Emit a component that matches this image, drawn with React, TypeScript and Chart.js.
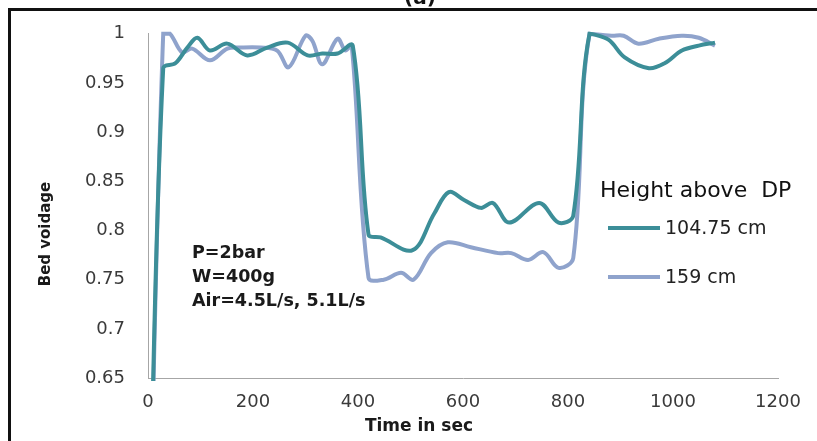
import React, { useEffect, useRef } from "react";
import { Chart, registerables } from "chart.js";

Chart.register(...registerables);

// ---- data ----
const SERIES_LABELS = ["104.75 cm", "159 cm"];
const LEGEND_TITLE = "Height above  DP";
const NOTE_LINES = ["P=2bar", "W=400g", "Air=4.5L/s, 5.1L/s"];
const X_TITLE = "Time in sec";
const Y_TITLE = "Bed voidage";
const PANEL_LABEL = "(a)";

const X_TICKS = [0, 200, 400, 600, 800, 1000, 1200];
const Y_TICKS = [0.65, 0.7, 0.75, 0.8, 0.85, 0.9, 0.95, 1];

const T_104 = [0, 29, 52, 75, 94, 118, 151, 189, 227, 266, 304, 332, 361, 390, 420, 443, 504, 545, 573, 602, 634, 657, 688, 745, 782, 810, 841, 877, 908, 954, 984, 1017, 1049, 1080];
const V_104 = [0.42, 0.965, 0.97, 0.986, 0.996, 0.983, 0.99, 0.978, 0.986, 0.991, 0.978, 0.98, 0.98, 0.988, 0.796, 0.793, 0.78, 0.817, 0.839, 0.831, 0.823, 0.828, 0.808, 0.828, 0.808, 0.815, 1.0, 0.994, 0.976, 0.965, 0.97, 0.983, 0.988, 0.991];

const T_159 = [0, 29, 42, 65, 84, 118, 151, 176, 214, 246, 268, 300, 313, 332, 361, 376, 388, 420, 449, 482, 506, 539, 571, 615, 667, 692, 724, 753, 782, 810, 841, 883, 906, 934, 973, 1017, 1049, 1080];
const V_159 = [0.4, 1.0, 1.0, 0.981, 0.985, 0.973, 0.985, 0.986, 0.986, 0.983, 0.966, 0.998, 0.993, 0.969, 0.995, 0.983, 0.988, 0.752, 0.75, 0.757, 0.75, 0.777, 0.788, 0.783, 0.777, 0.777, 0.77, 0.778, 0.762, 0.772, 1.0, 0.998, 0.998, 0.99, 0.995, 0.998, 0.996, 0.988];

const COLORS = ["#3c8e98", "#8fa3cc"];

const toPoints = (t: number[], v: number[]) => t.map((x, i) => ({ x, y: v[i] }));

const FONT = "'DejaVu Sans', sans-serif";

const overlayPlugin = {
  id: "overlay",
  afterDraw(chart: any) {
    const ctx = chart.ctx as CanvasRenderingContext2D;
    ctx.save();
    // frame (left and top edges only are visible)
    ctx.fillStyle = "#111";
    ctx.fillRect(8, 8, 3, chart.height - 8);
    ctx.fillRect(8, 8, chart.width - 8, 3);
    // panel label, cut by the top edge
    ctx.font = `bold 20px ${FONT}`;
    ctx.textAlign = "center";
    ctx.textBaseline = "alphabetic";
    ctx.fillText(PANEL_LABEL, 420, 4);
    // legend title
    ctx.fillStyle = "#111";
    ctx.textAlign = "left";
    ctx.textBaseline = "alphabetic";
    ctx.font = `22px ${FONT}`;
    ctx.fillText(LEGEND_TITLE, 600, 197);
    // legend items
    chart.data.datasets.forEach((ds: any, i: number) => {
      const y = 228 + i * 49;
      ctx.strokeStyle = ds.borderColor;
      ctx.lineWidth = 4;
      ctx.beginPath();
      ctx.moveTo(608, y);
      ctx.lineTo(660, y);
      ctx.stroke();
      ctx.fillStyle = "#222";
      ctx.font = `19px ${FONT}`;
      ctx.textBaseline = "middle";
      ctx.fillText(ds.label, 665, y + 1);
    });
    // note
    ctx.fillStyle = "#1a1a1a";
    ctx.font = `bold 17.5px ${FONT}`;
    ctx.textBaseline = "middle";
    NOTE_LINES.forEach((line, i) => {
      ctx.fillText(line, 192, 253 + i * 24);
    });
    // axis titles
    ctx.font = `bold 17px ${FONT}`;
    ctx.textAlign = "center";
    ctx.fillText(X_TITLE, 419, 427);
    ctx.translate(46, 234);
    ctx.rotate(-Math.PI / 2);
    ctx.font = `bold 15px ${FONT}`;
    ctx.fillText(Y_TITLE, 0, 0);
    ctx.restore();
  },
};

export default function App() {
  const ref = useRef<HTMLCanvasElement | null>(null);

  useEffect(() => {
    if (!ref.current) return;
    const chart = new Chart(ref.current, {
      type: "line",
      data: {
        datasets: [
          {
            label: SERIES_LABELS[0],
            data: toPoints(T_104, V_104),
            borderColor: COLORS[0],
            backgroundColor: COLORS[0],
            borderWidth: 4,
            pointRadius: 0,
            tension: 0.35,
            fill: false,
            clip: 3,
          },
          {
            label: SERIES_LABELS[1],
            data: toPoints(T_159, V_159),
            borderColor: COLORS[1],
            backgroundColor: COLORS[1],
            borderWidth: 4,
            pointRadius: 0,
            tension: 0.35,
            fill: false,
            clip: 3,
          },
        ],
      },
      options: {
        responsive: false,
        animation: false,
        devicePixelRatio: 1,
        layout: { padding: { left: 0, top: 33, right: 39, bottom: 0 } },
        plugins: {
          legend: { display: false },
          tooltip: { enabled: false },
        },
        scales: {
          x: {
            type: "linear",
            min: 0,
            max: 1200,
            afterBuildTicks: (s: any) => {
              s.ticks = X_TICKS.map((v) => ({ value: v }));
            },
            afterFit: (s: any) => {
              s.height = 63;
            },
            grid: { display: true, drawOnChartArea: false, drawTicks: false },
            border: { display: true, color: "#a6a6a6", width: 1 },
            ticks: {
              color: "#3a3a3a",
              font: { family: "'DejaVu Sans', sans-serif", size: 18 },
              padding: 14,
              maxRotation: 0,
              autoSkip: false,
              callback: (v: any) => String(v),
            },
          },
          y: {
            type: "linear",
            min: 0.65,
            max: 1,
            afterBuildTicks: (s: any) => {
              s.ticks = Y_TICKS.map((v) => ({ value: v }));
            },
            afterFit: (s: any) => {
              s.width = 148;
            },
            grid: { display: true, drawOnChartArea: false, drawTicks: false },
            border: { display: true, color: "#a6a6a6", width: 1 },
            ticks: {
              color: "#3a3a3a",
              font: { family: "'DejaVu Sans', sans-serif", size: 18 },
              padding: 23,
              autoSkip: false,
              callback: (v: any) => String(Number(Number(v).toFixed(2))),
            },
          },
        },
      },
      plugins: [overlayPlugin],
    });
    return () => chart.destroy();
  }, []);

  return (
    <div style={{ position: "absolute", left: 0, top: 0, width: 817, height: 441, background: "#fff", overflow: "hidden" }}>
      <canvas ref={ref} width={817} height={441} style={{ display: "block", position: "absolute", left: 0, top: 0 }} />
    </div>
  );
}
